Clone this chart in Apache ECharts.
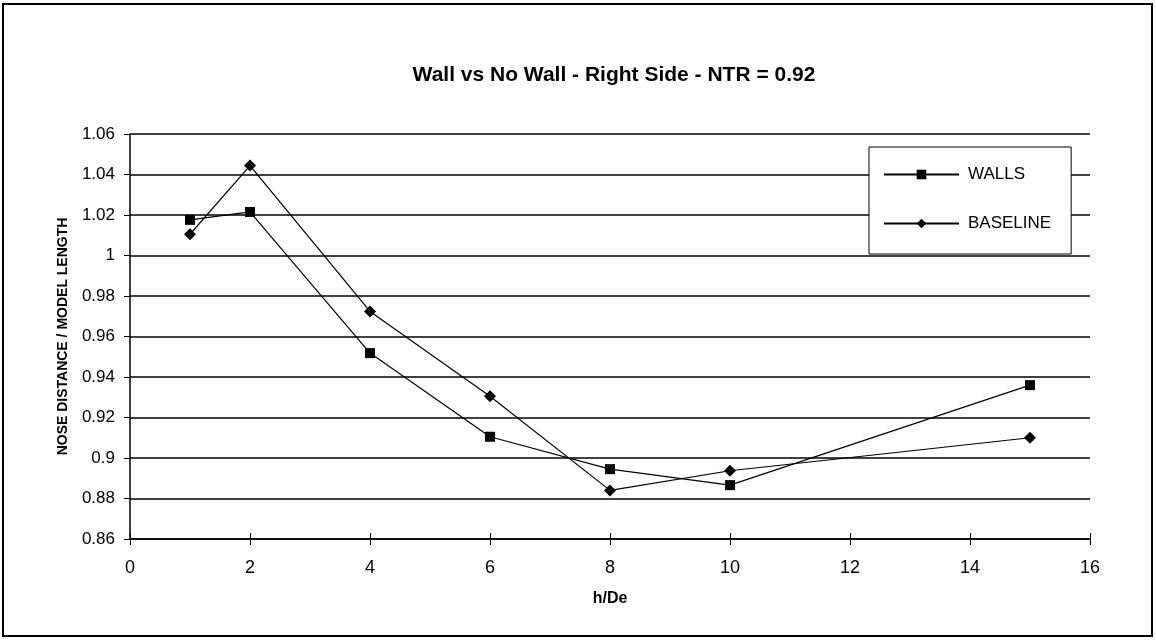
<!DOCTYPE html>
<html>
<head>
<meta charset="utf-8">
<script src="https://cdn.jsdelivr.net/npm/echarts@6/dist/echarts.min.js"></script>
<style>
html,body{margin:0;padding:0;background:#fff;}
#chart{width:1156px;height:644px;}
</style>
</head>
<body>
<div id="chart"></div>
<script>
const hDe = [1, 2, 4, 6, 8, 10, 15];
const walls = [1.0176, 1.0215, 0.9518, 0.9105, 0.8945, 0.8866, 0.9360];
const baseline = [1.0105, 1.0444, 0.9724, 0.9305, 0.8840, 0.8937, 0.9100];
const seriesNames = ['WALLS', 'BASELINE'];
const titleText = 'Wall vs No Wall - Right Side - NTR = 0.92';
const xName = 'h/De';
const yName = 'NOSE DISTANCE / MODEL LENGTH';

const FONT = '"Liberation Sans", Arial, sans-serif';
const chart = echarts.init(document.getElementById('chart'));

function pairs(xs, ys) { return xs.map((x, i) => [x, ys[i]]); }

chart.setOption({
  animation: false,
  backgroundColor: '#ffffff',
  title: {
    text: titleText,
    left: 609, top: 60, textAlign: 'center',
    textStyle: { fontFamily: FONT, fontSize: 21, fontWeight: 'bold', color: '#000' }
  },
  graphic: [{
    type: 'rect', silent: true, z: 100,
    shape: { x: 3, y: 4, width: 1149, height: 632 },
    style: { fill: 'none', stroke: '#000', lineWidth: 2 }
  }],
  legend: {
    orient: 'vertical',
    left: 869, top: 147,
    padding: [19, 20, 22, 14],
    itemGap: 32,
    itemWidth: 75, itemHeight: 12,
    itemStyle: { color: '#000' },
    borderColor: '#000', borderWidth: 1,
    backgroundColor: '#fff',
    textStyle: { fontFamily: FONT, fontSize: 17, color: '#000', padding: [0, 0, 0, 4] },
    data: seriesNames
  },
  grid: { left: 130, right: 66, top: 134, bottom: 105 },
  xAxis: [{
    type: 'value', min: 0, max: 16, interval: 2,
    name: xName, nameLocation: 'middle', nameGap: 52,
    nameTextStyle: { fontFamily: FONT, fontSize: 16, fontWeight: 'bold', color: '#000' },
    axisLine: { lineStyle: { color: '#000', width: 1.5 } },
    axisTick: { show: true, inside: false, length: 6, lineStyle: { color: '#000' } },
    axisLabel: { margin: 20, fontFamily: FONT, fontSize: 18, color: '#000' },
    splitLine: { show: false }
  }, {
    type: 'value', min: 0, max: 16, interval: 2, position: 'bottom',
    axisLine: { show: false },
    axisTick: { show: true, inside: true, length: 6, lineStyle: { color: '#000' } },
    axisLabel: { show: false },
    splitLine: { show: false }
  }],
  yAxis: {
    type: 'value', min: 0.86, max: 1.06, interval: 0.02,
    name: yName, nameLocation: 'middle', nameGap: 60, nameRotate: 90,
    nameTextStyle: { fontFamily: FONT, fontSize: 14, fontWeight: 'bold', color: '#000' },
    axisLine: { show: true, lineStyle: { color: '#000', width: 1.5 } },
    axisTick: { show: true, length: 6, lineStyle: { color: '#000' } },
    axisLabel: {
      margin: 15, fontFamily: FONT, fontSize: 17, color: '#000',
      formatter: v => String(parseFloat(v.toFixed(2)))
    },
    splitLine: { show: true, lineStyle: { color: '#000', width: 1.5 } }
  },
  series: [{
    name: seriesNames[0], type: 'line', xAxisIndex: 0,
    data: pairs(hDe, walls),
    symbol: 'rect', symbolSize: 10,
    lineStyle: { color: '#000', width: 1.2 },
    itemStyle: { color: '#000' },
    z: 5
  }, {
    name: seriesNames[1], type: 'line', xAxisIndex: 0,
    data: pairs(hDe, baseline),
    symbol: 'diamond', symbolSize: 12,
    lineStyle: { color: '#000', width: 1.2 },
    itemStyle: { color: '#000' },
    z: 5
  }]
});
</script>
</body>
</html>
